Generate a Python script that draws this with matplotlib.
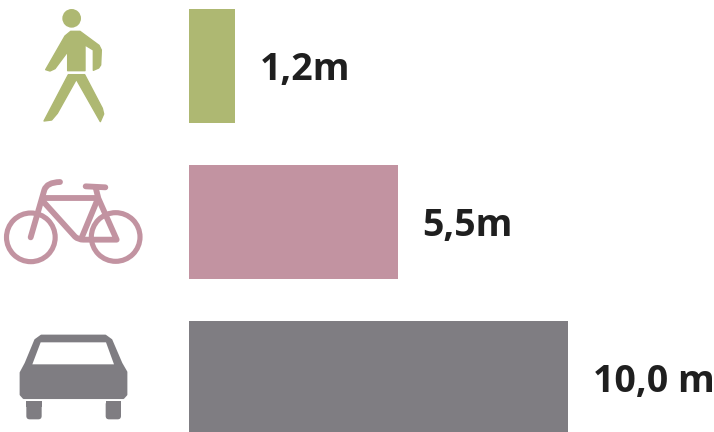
import matplotlib
matplotlib.use('Agg')
import matplotlib.pyplot as plt
from matplotlib.patches import Circle, Polygon, FancyBboxPatch, PathPatch
from matplotlib.path import Path

modes = ['Fussgaenger', 'Fahrrad', 'Auto']
distances = [1.2, 5.5, 10.0]
labels = ['1,2m', '5,5m', '10,0 m']
colors = ['#aeb872', '#c293a1', '#7f7d82']
text_color = '#1f1f1f'

W, H = 714, 432
fig = plt.figure(figsize=(W / 100, H / 100), dpi=100)

# bars, 37.9 px per metre, rows 156 px apart
ax = fig.add_axes([189 / W, 0, (W - 189) / W, 1])
ax.barh(range(len(modes)), distances, height=114 / 156, color=colors)
ax.set_xlim(0, (W - 189) / 37.92)
ax.set_ylim((H - 66) / 156, -66 / 156)
ax.axis('off')

for i in range(len(modes)):
    ax.annotate(labels[i], (distances[i], i), xytext=(18, -3), textcoords='offset points',
                family='Open Sans', fontweight='bold', fontsize=27, color=text_color,
                va='center', ha='left', annotation_clip=False)

# icons, drawn in zoomed pixel coords (3x)
icons = fig.add_axes([0, 0, 1, 1], zorder=3)
icons.set_xlim(0, W * 3)
icons.set_ylim(H * 3, 0)
icons.axis('off')
icons.patch.set_alpha(0)


def shape(points, color, dy=0, lw=2):
    pts = [(x, y + dy) for x, y in points]
    icons.add_patch(Polygon(pts, closed=True, facecolor=color, edgecolor=color, lw=lw, joinstyle='round'))


def stroke(verts, codes, color, dy, width):
    pts = [(x, y + dy) for x, y in verts]
    icons.add_patch(PathPatch(Path(pts, codes), facecolor='none', edgecolor=color, lw=width,
                              capstyle='round', joinstyle='round'))


# walker
green = colors[0]
icons.add_patch(Circle((215, 55), 28, color=green, lw=0))
shape([(137, 209), (195, 108), (212, 94), (240, 94), (297, 136), (304, 150), (302, 195), (296, 204),
       (280, 211), (280, 150), (255, 135), (255, 212), (203, 212), (203, 155), (165, 206), (150, 213)], green, lw=1)
shape([(205, 224), (254, 224), (307, 325), (311, 342), (301, 365), (229, 238), (172, 340), (155, 360),
       (132, 363)], green, lw=1)

# bike
pink = colors[1]
bike_dy = 495
lw_wheel = 3.7
lw_frame = 4.2
for cx, cy in [(92.5, 217), (347, 216)]:
    icons.add_patch(Circle((cx, cy + bike_dy), 73, facecolor='none', edgecolor=pink, lw=lw_wheel))
M, L, C = Path.MOVETO, Path.LINETO, Path.CURVE3
stroke([(92, 217), (133, 75), (140, 52), (180, 51)], [M, L, C, C], pink, bike_dy, lw_frame)
stroke([(135, 98), (290, 98)], [M, L], pink, bike_dy, lw_frame)
stroke([(130, 110), (225, 215), (235, 224), (250, 224), (350, 224), (295, 100), (287, 68)],
       [M, L, C, C, L, L, L], pink, bike_dy, lw_frame)
stroke([(245, 218), (292, 105)], [M, L], pink, bike_dy, lw_frame)
stroke([(257, 64), (316, 67)], [M, L], pink, bike_dy, lw_frame)

# car
grey = colors[2]
car_dy = 960
shape([(62, 158), (77, 130), (106, 60), (124, 47), (316, 47), (334, 60), (364, 130), (379, 156), (379, 224),
       (370, 234), (71, 234), (62, 224)], grey, car_dy, lw=1.5)
shape([(122, 67), (318, 67), (342, 133), (97, 133)], 'white', car_dy, lw=0)
for x0 in [79, 317]:
    icons.add_patch(FancyBboxPatch((x0, 243 + car_dy), 46, 55, boxstyle='round,pad=0,rounding_size=10',
                                   facecolor=grey, edgecolor=grey, lw=0))
    icons.add_patch(Polygon([(x0, 243 + car_dy), (x0 + 46, 243 + car_dy), (x0 + 46, 260 + car_dy),
                             (x0, 260 + car_dy)], facecolor=grey, lw=0))

fig.savefig('out.png', dpi=100)
